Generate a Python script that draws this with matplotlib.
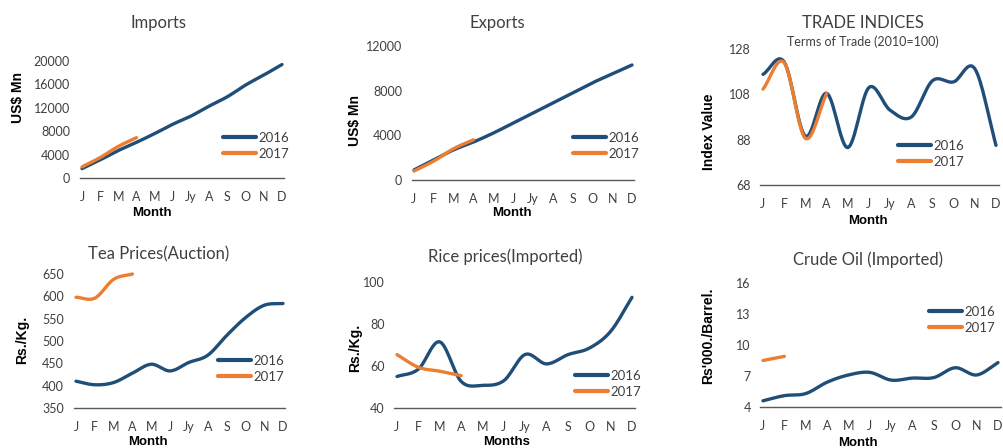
import numpy as np
import matplotlib
matplotlib.use('Agg')
import matplotlib.pyplot as plt

plt.rcParams['font.family'] = ['Lato', 'DejaVu Sans']

W, H = 1004, 448
months = ['J', 'F', 'M', 'A', 'M', 'J', 'Jy', 'A', 'S', 'O', 'N', 'D']

imports_2016 = [1600, 3100, 4700, 6100, 7600, 9200, 10600, 12300, 13900, 15900, 17600, 19400]
imports_2017 = [1900, 3500, 5400, 6900]

exports_2016 = [900, 1800, 2700, 3400, 4200, 5100, 6000, 6900, 7800, 8700, 9500, 10300]
exports_2017 = [800, 1700, 2800, 3600]

tot_2016 = [116.8, 122.3, 89.5, 108.5, 84.5, 111.0, 101.0, 98.0, 114.0, 113.5, 119.3, 85.5]
tot_2017 = [110.3, 122.0, 88.6, 108.3]

tea_2016 = [410, 402, 407, 428, 448, 433, 452, 468, 512, 552, 580, 584]
tea_2017 = [598, 596, 638, 650]

rice_2016 = [55.0, 58.5, 71.5, 52.7, 50.8, 53.0, 65.5, 61.0, 65.4, 68.5, 76.5, 92.7]
rice_2017 = [65.4, 59.4, 57.5, 55.4]

oil_2016 = [4.6, 5.1, 5.3, 6.4, 7.1, 7.35, 6.6, 6.8, 6.85, 7.8, 7.1, 8.3]
oil_2017 = [8.5, 8.9]

BLUE = '#1f4e79'
ORANGE = '#ed7d31'
GREY = '#404040'


def smooth(y, n=16):
    # catmull-rom style curve, like excel's smoothed lines
    y = np.asarray(y, float)
    x = np.arange(len(y), dtype=float)
    if len(y) < 3:
        return x, y
    p = np.concatenate([[2 * y[0] - y[1]], y, [2 * y[-1] - y[-2]]])
    xs, ys = [], []
    for i in range(len(y) - 1):
        t = np.linspace(0, 1, n, endpoint=False)
        p0, p1, p2, p3 = p[i], p[i + 1], p[i + 2], p[i + 3]
        seg = 0.5 * ((2 * p1) + (-p0 + p2) * t + (2 * p0 - 5 * p1 + 4 * p2 - p3) * t ** 2
                     + (-p0 + 3 * p1 - 3 * p2 + p3) * t ** 3)
        xs.append(i + t)
        ys.append(seg)
    xs.append([x[-1]])
    ys.append([y[-1]])
    return np.concatenate(xs), np.concatenate(ys)


def fx(px):
    return px / W


def fy(py):
    return 1 - py / H


fig = plt.figure(figsize=(W / 100, H / 100), dpi=100)


def panel(jx, dx, y0px, y1px, ylo, yhi, ticks, s16, s17, title, ylabel, ylabel_xy,
          xlabel, xlabel_xy, title_xy, leg_xy, subtitle=None):
    pad = 0.12
    unit = (dx - jx) / 11
    left = jx - pad * unit
    right = dx + pad * unit
    ax = fig.add_axes([fx(left), fy(y0px), fx(right - left), (y0px - y1px) / H])
    ax.set_xlim(-pad, 11 + pad)
    ax.set_ylim(ylo, yhi)
    xs, ys = smooth(s16)
    ax.plot(xs, ys, color=BLUE, lw=2.4, solid_capstyle='round', label='2016', clip_on=False)
    xs, ys = smooth(s17)
    ax.plot(xs, ys, color=ORANGE, lw=2.4, solid_capstyle='round', label='2017', clip_on=False)
    ax.set_xticks(range(12))
    ax.set_xticklabels(months)
    ax.set_yticks(ticks)
    ax.tick_params(axis='both', length=0, labelsize=9, colors=GREY, pad=7)
    ax.tick_params(axis='x', pad=9)
    for s in ['top', 'right', 'left']:
        ax.spines[s].set_visible(False)
    ax.spines['bottom'].set_color('#595959')
    ax.spines['bottom'].set_linewidth(1.0)
    ax.patch.set_alpha(0)
    fig.text(fx(title_xy[0]), fy(title_xy[1]), title, ha='center', va='center',
             fontsize=12, color=GREY)
    if subtitle:
        fig.text(fx(title_xy[0]), fy(title_xy[1] + 19), subtitle, ha='center', va='center',
                 fontsize=9, color=GREY)
    fig.text(fx(ylabel_xy[0]), fy(ylabel_xy[1]), ylabel, ha='center', va='center',
             rotation=90, fontsize=10, fontweight='bold', family='Liberation Sans', color='black')
    fig.text(fx(xlabel_xy[0]), fy(xlabel_xy[1]), xlabel, ha='center', va='center',
             fontsize=9.5, fontweight='bold', family='Liberation Sans', color='black')
    leg = ax.legend(loc='center left', bbox_to_anchor=(fx(leg_xy[0]), fy(leg_xy[1])),
                    bbox_transform=fig.transFigure, frameon=False, fontsize=9.5,
                    handlelength=2.5, handletextpad=0.15, labelspacing=0.3,
                    borderpad=0, borderaxespad=0)
    for t in leg.get_texts():
        t.set_color(GREY)
    for l in leg.get_lines():
        l.set_linewidth(3)
    return ax


panel(82, 282, 178, 61, 0, 20000, range(0, 20001, 4000), imports_2016, imports_2017,
      'Imports', 'US$ Mn', (18, 97), 'Month', (152, 213), (159, 23), (223, 146))
panel(414, 632, 180, 46, 0, 12000, range(0, 12001, 4000), exports_2016, exports_2017,
      'Exports', 'US$ Mn', (355, 120), 'Month', (512, 213), (497, 23), (573, 146))
panel(763, 996, 185, 49, 68, 128, range(68, 129, 20), tot_2016, tot_2017,
      'TRADE INDICES', 'Index Value', (709, 132), 'Month', (868, 221), (863, 23), (898, 154),
      subtitle='Terms of Trade (2010=100)')
panel(76, 283, 408, 274, 350, 650, range(350, 651, 50), tea_2016, tea_2017,
      'Tea Prices(Auction)', 'Rs./Kg.', (22, 340), 'Month', (148, 442), (159, 254), (218, 369))
panel(397, 632, 408, 282, 40, 100, range(40, 101, 20), rice_2016, rice_2017,
      'Rice prices(Imported)', 'Rs./Kg.', (355, 348), 'Months', (507, 442), (505, 257), (575, 384))
panel(763, 998, 407, 283, 4, 16, range(4, 17, 3), oil_2016, oil_2017,
      'Crude Oil (Imported)', "Rs'000./Barrel.", (708, 336), 'Month', (858, 443), (868, 260), (929, 320))

fig.savefig('out.png', dpi=100)
